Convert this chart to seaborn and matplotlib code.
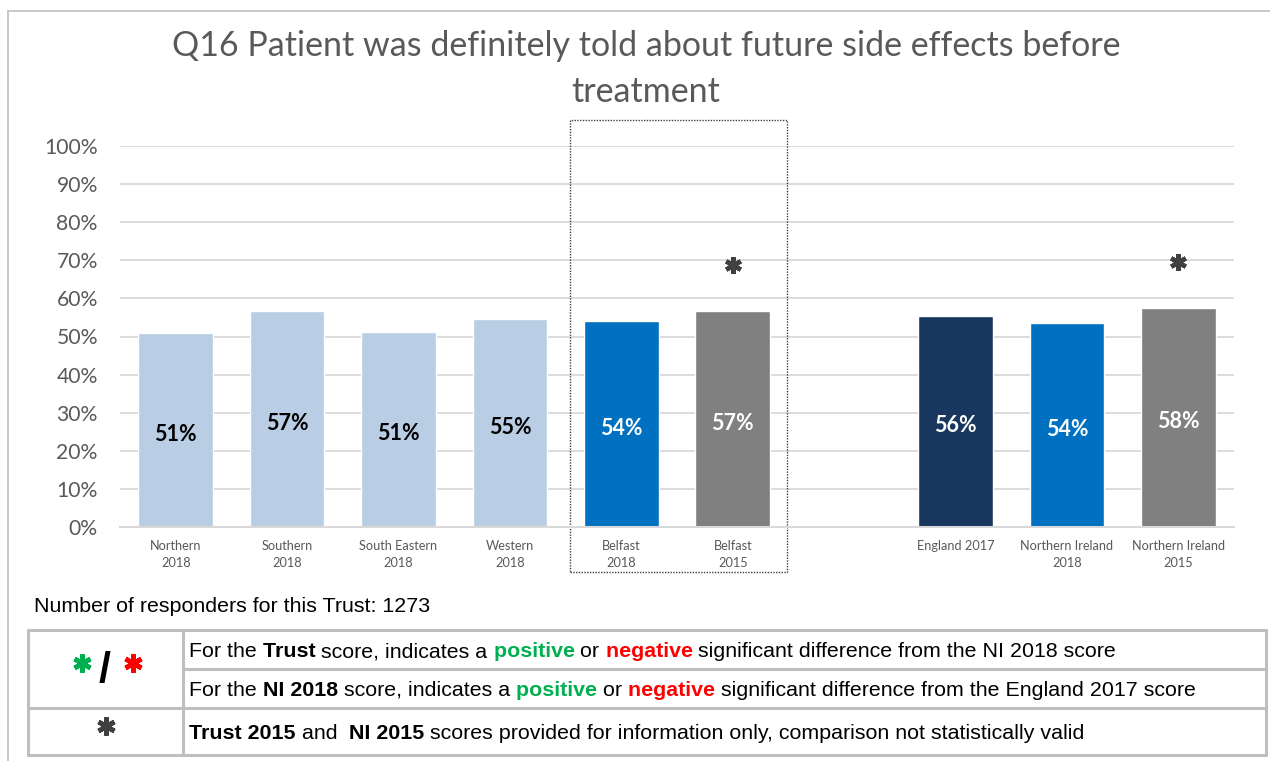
import matplotlib
matplotlib.use("Agg")
import matplotlib.pyplot as plt
from matplotlib.lines import Line2D
from matplotlib.patches import Rectangle
import seaborn as sns
import pandas as pd

# ---------------- data ----------------
categories = ["Northern\n2018", "Southern\n2018", "South Eastern\n2018", "Western\n2018",
              "Belfast\n2018", "Belfast\n2015",
              "England 2017", "Northern Ireland\n2018", "Northern Ireland\n2015"]
values = [50.9, 56.7, 51.2, 54.6, 54.1, 56.7, 55.4, 53.5, 57.5]
value_labels = ["51%", "57%", "51%", "55%", "54%", "57%", "56%", "54%", "58%"]
bar_colors = ["#B9CDE5", "#B9CDE5", "#B9CDE5", "#B9CDE5",
              "#0070C0", "#808080", "#17375E", "#0070C0", "#808080"]
label_colors = ["black", "black", "black", "black",
                "white", "white", "white", "white", "white"]
info_only = ["Belfast\n2015", "Northern Ireland\n2015"]   # marked with grey asterisk
gap_label = " "
order = categories[:6] + [gap_label] + categories[6:]
yticks = [0, 10, 20, 30, 40, 50, 60, 70, 80, 90, 100]

title = "Q16 Patient was definitely told about future side effects before\ntreatment"
responders_text = "Number of responders for this Trust: 1273"

W, H = 1270, 761

def fx(x):
    return x / W

def fy(y):
    return 1 - y / H

sns.set_theme(style="white")
plt.rcParams["font.family"] = ["Lato", "DejaVu Sans"]

fig = plt.figure(figsize=(12.7, 7.61), dpi=100)
ax = fig.add_axes([fx(120), fy(527), (1234 - 120) / W, (527 - 146) / H])

df = pd.DataFrame({"label": categories, "value": values})
palette = dict(zip(categories, bar_colors))
sns.barplot(data=df, x="label", y="value", hue="label", order=order,
            hue_order=categories, palette=palette, width=0.67, saturation=1,
            legend=False, ax=ax)

ax.set_ylim(0, 100)
ax.set_xlim(-0.5, len(order) - 0.5)
ax.set_yticks(yticks)
ax.set_yticklabels([f"{v}%" for v in yticks])
ax.set_xlabel("")
ax.set_ylabel("")
ax.yaxis.grid(True, color="#D9D9D9", lw=1.3)
ax.xaxis.grid(False)
ax.set_axisbelow(True)
for s in ["top", "right", "left"]:
    ax.spines[s].set_visible(False)
ax.spines["bottom"].set_color("#D9D9D9")
ax.spines["bottom"].set_linewidth(1.5)
ax.tick_params(axis="y", length=0, pad=16, labelsize=15.2, labelcolor="#595959")
ax.tick_params(axis="x", length=0, pad=9, labelsize=9.2, labelcolor="#595959")
for t in ax.get_xticklabels():
    t.set_linespacing(1.55)

# value labels
for cont, lab, col in zip(ax.containers, value_labels, label_colors):
    anns = ax.bar_label(cont, labels=[lab], label_type="center", color=col,
                        fontsize=15.5, fontweight="bold")
    for a in anns:
        a.xyann = (0, -3)

# info-only asterisks above bars
for name in info_only:
    i = order.index(name)
    v = values[categories.index(name)]
    ax.plot([i], [v + 12], marker=(6, 2, 0), ms=12, mew=3.2, color="#404040",
            linestyle="none", clip_on=False)

# dotted box around Belfast bars
b0 = order.index("Belfast\n2018")
b1 = order.index("Belfast\n2015")
ax.add_patch(Rectangle((b0 - 0.46, -11.8), (b1 + 0.49) - (b0 - 0.46), 118.6,
                       fill=False, ec="#404040", lw=1.0, ls=(0, (1, 1)),
                       clip_on=False))

# title
fig.text(fx(646), fy(69), title, ha="center", va="center", fontsize=24.5,
         color="#595959", linespacing=1.5)

# outer frame lines
fig.add_artist(Line2D([fx(8), 1], [fy(11), fy(11)], color="#BFBFBF", lw=1.2))
fig.add_artist(Line2D([fx(8), fx(8)], [fy(11), 0], color="#BFBFBF", lw=1.2))

# responders text
fig.text(fx(34), fy(612), responders_text, ha="left", va="baseline",
         fontsize=15.4, family=["Liberation Sans"], color="black")

# table
tc = "#BFBFBF"
tlw = 2.2
def hline(x0, x1, y):
    fig.add_artist(Line2D([fx(x0), fx(x1)], [fy(y), fy(y)], color=tc, lw=tlw))
def vline(x, y0, y1):
    fig.add_artist(Line2D([fx(x), fx(x)], [fy(y0), fy(y1)], color=tc, lw=tlw))

hline(28, 1266, 630)
hline(183, 1266, 669)
hline(28, 1266, 708)
hline(28, 1266, 755)
vline(28, 630, 755)
vline(183, 630, 755)
vline(1266, 630, 755)

green = "#00B050"
red = "#FF0000"
rows = [
    (657, [("For the", "normal", "black"), (" Trust", "bold", "black"),
           (" score, indicates a", "normal", "black"), (" positive", "bold", green),
           (" or", "normal", "black"), (" negative", "bold", red),
           (" significant difference from the NI 2018 score", "normal", "black")]),
    (696, [("For the", "normal", "black"), (" NI 2018", "bold", "black"),
           (" score, indicates a", "normal", "black"), (" positive", "bold", green),
           (" or", "normal", "black"), (" negative", "bold", red),
           (" significant difference from the England 2017 score", "normal", "black")]),
    (739, [("Trust 2015", "bold", "black"), (" and", "normal", "black"),
           ("  NI 2015", "bold", "black"),
           (" scores provided for information only, comparison not statistically valid",
            "normal", "black")]),
]
renderer = fig.canvas.get_renderer()
for ybase, pieces in rows:
    x = fx(189)
    for s, wt, col in pieces:
        t = fig.text(x, fy(ybase), s, ha="left", va="baseline", fontsize=15.4,
                     fontweight=wt, color=col, family=["Liberation Sans"])
        bb = t.get_window_extent(renderer)
        x = bb.x1 / fig.bbox.width

# symbols in first column
fig.add_artist(Line2D([fx(82)], [fy(663)], marker=(6, 2, 0), ms=13, mew=3.4,
                      color=green, linestyle="none"))
fig.add_artist(Line2D([fx(133)], [fy(663)], marker=(6, 2, 0), ms=13, mew=3.4,
                      color=red, linestyle="none"))
fig.text(fx(105), fy(671), "/", ha="center", va="center", fontsize=31,
         fontweight="bold", color="black", family=["Liberation Sans"])
fig.add_artist(Line2D([fx(106)], [fy(726)], marker=(6, 2, 0), ms=13, mew=3.4,
                      color="#404040", linestyle="none"))

fig.savefig("out.png", dpi=100)
